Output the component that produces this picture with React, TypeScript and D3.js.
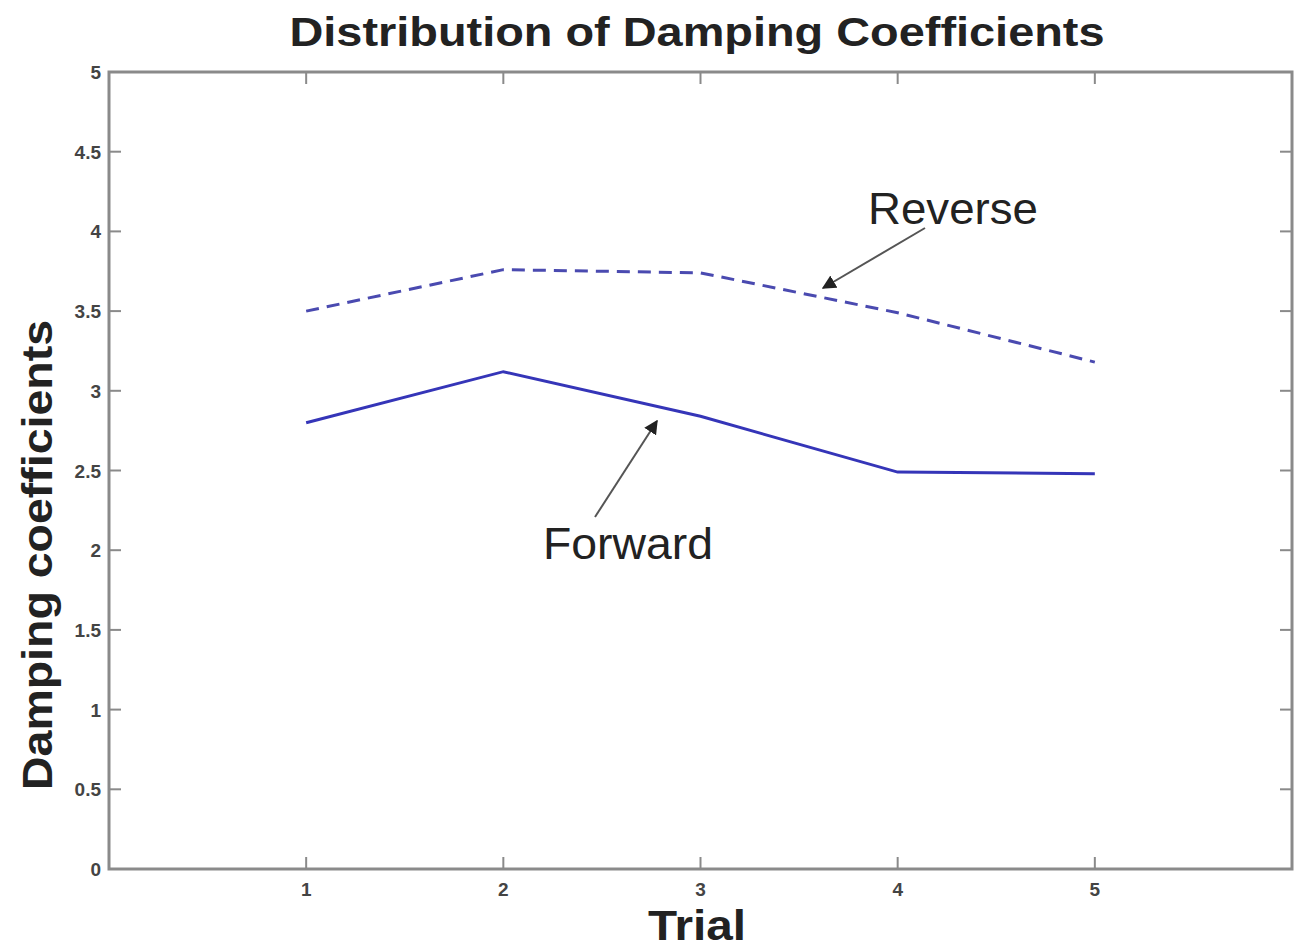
import React from "react";
import * as d3 from "d3";

const trials = [1, 2, 3, 4, 5];
const forward = [2.8, 3.12, 2.84, 2.49, 2.48];
const reverse = [3.5, 3.76, 3.74, 3.49, 3.18];
const yTicks = [0, 0.5, 1, 1.5, 2, 2.5, 3, 3.5, 4, 4.5, 5];
const xTicks = [1, 2, 3, 4, 5];

export default function App() {
  const W = 1302, H = 952;
  const L = 109, R = 1292, T = 72, B = 869;
  const x = d3.scaleLinear().domain([0, 6]).range([L, R]);
  const y = d3.scaleLinear().domain([0, 5]).range([B, T]);
  const line = d3.line<number>().x((_, i) => x(trials[i])).y((d) => y(d));
  const axisColor = "#8a8a8a";
  const font = "Liberation Sans, Arial, sans-serif";
  return (
    <svg width={W} height={H} style={{ position: "absolute", left: 0, top: 0, background: "#fff" }}>
      <defs>
        <marker id="ah" viewBox="0 0 10 10" refX="9" refY="5" markerWidth="7" markerHeight="7" orient="auto">
          <path d="M0,0 L10,5 L0,10 Z" fill="#222" />
        </marker>
      </defs>
      <rect x={0} y={0} width={W} height={H} fill="#fff" />
      <text x={697} y={46} textAnchor="middle" fontFamily={font} fontWeight="bold" fontSize={40} fill="#222"
        textLength={815} lengthAdjust="spacingAndGlyphs">
        Distribution of Damping Coefficients
      </text>
      {/* axes box */}
      <rect x={L} y={T} width={R - L} height={B - T} fill="none" stroke={axisColor} strokeWidth={3} />
      {yTicks.map((t) => (
        <g key={"y" + t}>
          <line x1={L} x2={L + 12} y1={y(t)} y2={y(t)} stroke={axisColor} strokeWidth={2} />
          <line x1={R} x2={R - 12} y1={y(t)} y2={y(t)} stroke={axisColor} strokeWidth={2} />
          <text x={L - 8} y={y(t) + 7} textAnchor="end" fontFamily={font} fontWeight="bold" fontSize={19} fill="#444">
            {t}
          </text>
        </g>
      ))}
      {xTicks.map((t) => (
        <g key={"x" + t}>
          <line x1={x(t)} x2={x(t)} y1={B} y2={B - 12} stroke={axisColor} strokeWidth={2} />
          <line x1={x(t)} x2={x(t)} y1={T} y2={T + 12} stroke={axisColor} strokeWidth={2} />
          <text x={x(t)} y={B + 27} textAnchor="middle" fontFamily={font} fontWeight="bold" fontSize={19} fill="#444">
            {t}
          </text>
        </g>
      ))}
      <path d={line(forward) || ""} fill="none" stroke="#3535b8" strokeWidth={3} />
      <path d={line(reverse) || ""} fill="none" stroke="#4a4ab0" strokeWidth={3} strokeDasharray="13,8" />
      {/* annotations */}
      <text x={953} y={224} textAnchor="middle" fontFamily={font} fontSize={44} fill="#222"
        textLength={170} lengthAdjust="spacingAndGlyphs">Reverse</text>
      <line x1={925} y1={228} x2={823} y2={288} stroke="#555" strokeWidth={2} markerEnd="url(#ah)" />
      <text x={628} y={559} textAnchor="middle" fontFamily={font} fontSize={44} fill="#222"
        textLength={170} lengthAdjust="spacingAndGlyphs">Forward</text>
      <line x1={595} y1={517} x2={657} y2={421} stroke="#555" strokeWidth={2} markerEnd="url(#ah)" />
      <text x={697} y={940} textAnchor="middle" fontFamily={font} fontWeight="bold" fontSize={43} fill="#222"
        textLength={98} lengthAdjust="spacingAndGlyphs">Trial</text>
      <text transform={`translate(52, 555) rotate(-90)`} textAnchor="middle" fontFamily={font} fontWeight="bold" fontSize={42} fill="#222"
        textLength={470} lengthAdjust="spacingAndGlyphs">
        Damping coefficients
      </text>
    </svg>
  );
}
